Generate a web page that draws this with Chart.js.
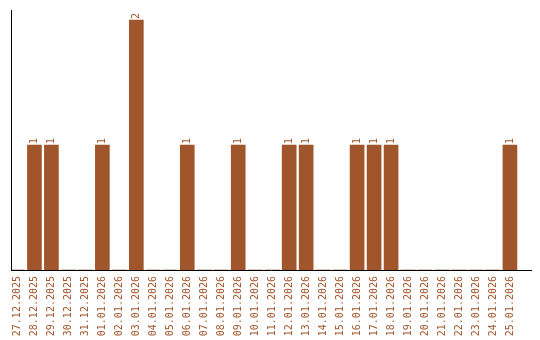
<!DOCTYPE html>
<html>
<head>
<meta charset="utf-8">
<script src="https://cdn.jsdelivr.net/npm/chart.js@4/dist/chart.umd.min.js"></script>
<style>
html,body{margin:0;padding:0;background:#fff;}
#wrap{width:540px;height:340px;position:relative;}
</style>
</head>
<body>
<div id="wrap"><canvas id="c" width="540" height="340"></canvas></div>
<script>
const categories = ["27.12.2025","28.12.2025","29.12.2025","30.12.2025","31.12.2025","01.01.2026","02.01.2026","03.01.2026","04.01.2026","05.01.2026","06.01.2026","07.01.2026","08.01.2026","09.01.2026","10.01.2026","11.01.2026","12.01.2026","13.01.2026","14.01.2026","15.01.2026","16.01.2026","17.01.2026","18.01.2026","19.01.2026","20.01.2026","21.01.2026","22.01.2026","23.01.2026","24.01.2026","25.01.2026"];
const counts = [0,1,1,0,0,1,0,2,0,0,1,0,0,1,0,0,1,1,0,0,1,1,1,0,0,0,0,0,0,1];

const BROWN = '#a0552b';
const FONT = '"DejaVu Sans Mono", "Liberation Mono", monospace';

const points = counts.map((v, i) => ({x: i, y: v}));

const valueLabels = {
  id: 'valueLabels',
  afterDatasetsDraw(chart) {
    const ctx = chart.ctx;
    const meta = chart.getDatasetMeta(0);
    ctx.save();
    ctx.fillStyle = BROWN;
    ctx.font = '10px ' + FONT;
    ctx.textAlign = 'left';
    ctx.textBaseline = 'middle';
    meta.data.forEach((bar, i) => {
      const v = counts[i];
      if (!v) return;
      ctx.save();
      ctx.translate(bar.x, bar.y - 1);
      ctx.rotate(-Math.PI / 2);
      ctx.fillText(String(v), 0, 0);
      ctx.restore();
    });
    ctx.restore();
  }
};

new Chart(document.getElementById('c'), {
  type: 'bar',
  data: {
    datasets: [{
      data: points,
      backgroundColor: BROWN,
      borderWidth: 0,
      barThickness: 14
    }]
  },
  options: {
    responsive: false,
    animation: false,
    events: [],
    layout: {padding: {top: 10, right: 9, left: 0, bottom: 0}},
    plugins: {legend: {display: false}, tooltip: {enabled: false}},
    scales: {
      x: {
        type: 'linear',
        offset: false,
        min: -0.38,
        max: 30.24,
        grid: {display: false, drawTicks: false, offset: false},
        border: {display: true, color: '#000', width: 1},
        ticks: {
          stepSize: 1,
          includeBounds: false,
          autoSkip: false,
          minRotation: 90,
          maxRotation: 90,
          padding: 6,
          color: BROWN,
          font: {family: FONT, size: 10},
          callback: (v) => (Number.isInteger(v) && categories[v] !== undefined) ? categories[v] : ''
        },
        afterFit: (s) => { s.height = 70; s.paddingLeft = 0; s.paddingRight = 0; }
      },
      y: {
        min: 0,
        max: 2.08,
        grid: {display: false, drawTicks: false},
        border: {display: true, color: '#000', width: 1},
        ticks: {display: false},
        afterFit: (s) => { s.width = 11; s.paddingTop = 0; s.paddingBottom = 0; }
      }
    }
  },
  plugins: [valueLabels]
});
</script>
</body>
</html>
